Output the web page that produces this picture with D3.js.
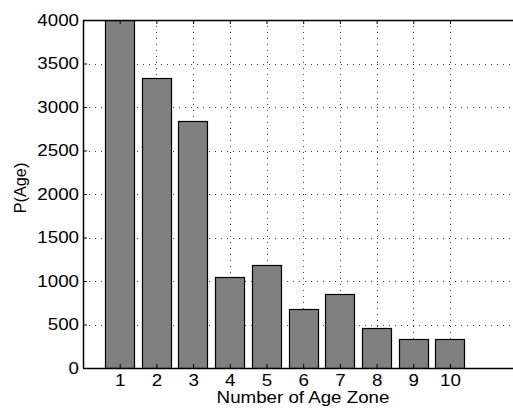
<!DOCTYPE html>
<html>
<head>
<meta charset="utf-8">
<script src="https://cdn.jsdelivr.net/npm/d3@7"></script>
<style>
  body { margin: 0; background: #fff; }
  svg { display: block; }
  svg text { font-family: "Liberation Sans", Arial, sans-serif; fill: #000; }
</style>
</head>
<body>
<svg width="513" height="412"></svg>
<script>
"use strict";

// data
const zones = [1, 2, 3, 4, 5, 6, 7, 8, 9, 10];
const counts = [4000, 3337, 2843, 1046, 1188, 675, 854, 460, 337, 330];
const yTicks = [0, 500, 1000, 1500, 2000, 2500, 3000, 3500, 4000];

const svg = d3.select("svg");
const width = +svg.attr("width");

// plot box (right edge runs off the image)
const plotLeft = 83, plotTop = 20, plotBottom = 368;
const step = 36.7;
const fs = 16.3, stretch = 1.15; // reference text is a bit wide

const x = d3.scaleLinear().domain([0, 12]).range([plotLeft, plotLeft + 12 * step]);
const y = d3.scaleLinear().domain([0, 4000]).range([plotBottom, plotTop]);

svg.append("clipPath").attr("id", "plot")
  .append("rect").attr("x", plotLeft).attr("y", plotTop)
  .attr("width", width - plotLeft).attr("height", plotBottom - plotTop);

// dotted grid
const grid = svg.append("g")
  .attr("stroke", "#444")
  .attr("stroke-width", 1)
  .attr("stroke-dasharray", "1,5");

grid.selectAll(".gx").data(zones).enter().append("line")
  .attr("x1", (d) => Math.round(x(d)) + 0.5)
  .attr("x2", (d) => Math.round(x(d)) + 0.5)
  .attr("y1", plotTop).attr("y2", plotBottom);

grid.selectAll(".gy").data(yTicks.slice(1, -1)).enter().append("line")
  .attr("y1", (d) => Math.round(y(d)) + 0.5)
  .attr("y2", (d) => Math.round(y(d)) + 0.5)
  .attr("x1", plotLeft).attr("x2", width);

// bars
const bw = 0.8;
svg.append("g").attr("clip-path", "url(#plot)")
  .selectAll("rect").data(zones).enter().append("rect")
  .attr("x", (d) => Math.round(x(d - bw / 2)) + 0.5)
  .attr("width", (d) => Math.round(x(d + bw / 2) - x(d - bw / 2)))
  .attr("y", (d, i) => Math.round(y(counts[i])) + 0.5)
  .attr("height", (d, i) => Math.round(plotBottom - y(counts[i])))
  .attr("fill", "#808080")
  .attr("stroke", "#000")
  .attr("stroke-width", 1.2);

// axes
const xAxis = d3.axisBottom(x).tickValues(zones).tickSize(-4).tickPadding(6.3);
const gx = svg.append("g").attr("transform", `translate(0,${plotBottom})`).call(xAxis);
gx.attr("font-family", null).attr("font-size", fs);
gx.select(".domain").attr("d", `M${plotLeft},0.5H${width}`).attr("stroke-width", 1.5);
gx.selectAll("text").attr("transform", `scale(${stretch},1)`);

const yAxis = d3.axisLeft(y).tickValues(yTicks).tickFormat(d3.format("d")).tickSize(-4).tickPadding(4);
const gy = svg.append("g").attr("transform", `translate(${plotLeft},0)`).call(yAxis);
gy.attr("font-family", null).attr("font-size", fs);
gy.select(".domain").attr("d", `M0.5,${plotTop}V${plotBottom}`).attr("stroke-width", 1.5);
gy.selectAll("text").attr("x", -4 / stretch).attr("transform", `scale(${stretch},1)`);

// top edge with inward ticks
const gt = svg.append("g").attr("transform", `translate(0,${plotTop})`)
  .call(d3.axisTop(x).tickValues(zones).tickSize(-4).tickFormat(""));
gt.select(".domain").attr("d", `M${plotLeft},0.5H${width}`).attr("stroke-width", 1.5);

// labels
svg.append("text")
  .attr("transform", `translate(303,403) scale(${stretch},1)`)
  .attr("text-anchor", "middle")
  .attr("font-size", fs)
  .text("Number of Age Zone");

svg.append("text")
  .attr("transform", `translate(26,188) rotate(-90)`)
  .attr("text-anchor", "middle")
  .attr("font-size", fs)
  .text("P(Age)");
</script>
</body>
</html>
